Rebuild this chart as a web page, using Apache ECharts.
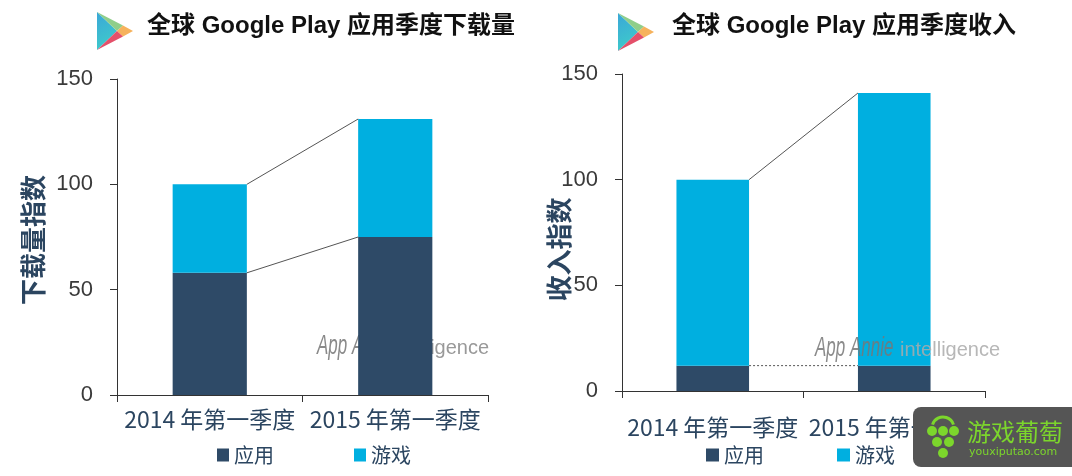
<!DOCTYPE html>
<html>
<head>
<meta charset="utf-8">
<script src="https://cdn.jsdelivr.net/npm/echarts@6/dist/echarts.min.js"></script>
<style>
html,body{margin:0;padding:0;background:#fff;}
#c{width:1072px;height:476px;}
</style>
</head>
<body>
<div id="c"></div>
<script>
const categories = ['2014 年第一季度', '2015 年第一季度'];
const seriesNames = ['应用', '游戏'];
const yTicks = [0, 50, 100, 150];
// 下载量指数
const dlApps = [58, 75];
const dlGames = [42, 56];
// 收入指数
const revApps = [12, 12];
const revGames = [88, 129];

const titles = ['全球 Google Play 应用季度下载量', '全球 Google Play 应用季度收入'];
const yNames = ['下载量指数', '收入指数'];

const C_APP = '#2e4a67';
const C_GAME = '#00afe0';
const C_TEXT = '#2b4560';

function totals(a, b) { return a.map((v, i) => v + b[i]); }
const dlTotal = totals(dlApps, dlGames);
const revTotal = totals(revApps, revGames);

function connector(xi, yi, data, dashes) {
  return {
    type: 'custom', xAxisIndex: xi, yAxisIndex: yi, z: 5, silent: true,
    encode: { x: [0, 2], y: [1, 3] },
    data: data,
    renderItem: function (params, api) {
      const p0 = api.coord([api.value(0), api.value(1)]);
      const p1 = api.coord([api.value(2), api.value(3)]);
      const hw = api.size([1, 0])[0] * 0.2;
      const dash = dashes[params.dataIndex];
      return {
        type: 'line',
        shape: { x1: p0[0] + hw, y1: p0[1], x2: p1[0] - hw, y2: p1[1] },
        style: { stroke: '#555', lineWidth: 1, lineDash: dash }
      };
    }
  };
}

function playIcon(x, y) {
  const P = (a, b) => [x + a, y + b];
  return {
    type: 'group', children: [
      { type: 'polygon', shape: { points: [P(0, 0), P(0, 38), P(20, 19)] },
        style: { fill: new echarts.graphic.LinearGradient(0, 0, 1, 1, [{ offset: 0, color: '#3aa7d8' }, { offset: 1, color: '#3fd0c8' }]) } },
      { type: 'polygon', shape: { points: [P(0, 0), P(26, 13.5), P(20, 19)] }, style: { fill: '#8fce8a' } },
      { type: 'polygon', shape: { points: [P(26, 13.5), P(36, 19), P(26, 24.5), P(20, 19)] }, style: { fill: '#f6b25c' } },
      { type: 'polygon', shape: { points: [P(0, 38), P(20, 19), P(26, 24.5)] }, style: { fill: '#e4506a' } }
    ]
  };
}

const axisLabelY = { color: '#3a3a3a', fontSize: 22, fontFamily: 'Liberation Sans', margin: 24 };
const axisLineDark = { show: true, lineStyle: { color: '#333', width: 1 } };

function yAxis(gi, name, gap, pad) {
  return {
    type: 'value', gridIndex: gi, min: 0, max: 150, interval: 50,
    axisLine: axisLineDark,
    axisTick: { show: true, length: 7, lineStyle: { color: '#333' } },
    splitLine: { show: false },
    axisLabel: Object.assign({}, axisLabelY, { formatter: v => yTicks.indexOf(v) >= 0 ? String(v) : '' }),
    name: name, nameLocation: 'middle', nameGap: gap, nameMoveOverlap: false,
    nameTextStyle: { fontSize: 26, fontWeight: 'bold', color: C_TEXT, fontFamily: 'Noto Sans CJK SC', padding: pad }
  };
}
function xAxis(gi, margin) {
  return {
    type: 'category', gridIndex: gi, data: categories,
    axisLine: axisLineDark,
    axisTick: { show: true, length: 7, lineStyle: { color: '#333' } },
    axisLabel: { color: C_TEXT, fontSize: 23, fontFamily: 'Noto Sans CJK SC', margin: margin, interval: 0 }
  };
}

const wmFont = 'italic 27px "Liberation Sans", sans-serif';
const wmFont2 = '20px "Liberation Sans", sans-serif';
const titleFont = 'bold 24px "Liberation Sans", "Noto Sans CJK SC", sans-serif';
const grape = '#7cd62c';

const chart = echarts.init(document.getElementById('c'));
chart.setOption({
  backgroundColor: '#fff',
  animation: false,
  grid: [
    { left: 117, right: 584, top: 79, bottom: 81 },
    { left: 622, right: 87, top: 74, bottom: 85 }
  ],
  xAxis: [xAxis(0, 13), xAxis(1, 25)],
  yAxis: [yAxis(0, yNames[0], 71, [0, 6, 0, 0]), yAxis(1, yNames[1], 50, [0, 34, 0, 0])],
  legend: [
    { left: 212, top: 440, data: seriesNames, icon: 'rect', itemWidth: 12, itemHeight: 13, itemGap: 80,
      textStyle: { color: C_TEXT, fontSize: 20, fontFamily: 'Noto Sans CJK SC' } },
    { left: 701, top: 440, data: seriesNames, icon: 'rect', itemWidth: 13, itemHeight: 13, itemGap: 73,
      textStyle: { color: C_TEXT, fontSize: 20, fontFamily: 'Noto Sans CJK SC' } }
  ],
  series: [
    { name: seriesNames[0], type: 'bar', stack: 'a', xAxisIndex: 0, yAxisIndex: 0, data: dlApps, barWidth: '40%', itemStyle: { color: C_APP } },
    { name: seriesNames[1], type: 'bar', stack: 'a', xAxisIndex: 0, yAxisIndex: 0, data: dlGames, barWidth: '40%', itemStyle: { color: C_GAME } },
    { name: seriesNames[0], type: 'bar', stack: 'b', xAxisIndex: 1, yAxisIndex: 1, data: revApps, barWidth: '40%', itemStyle: { color: C_APP } },
    { name: seriesNames[1], type: 'bar', stack: 'b', xAxisIndex: 1, yAxisIndex: 1, data: revGames, barWidth: '40%', itemStyle: { color: C_GAME } },
    connector(0, 0, [[0, dlApps[0], 1, dlApps[1]], [0, dlTotal[0], 1, dlTotal[1]]], [null, null]),
    connector(1, 1, [[0, revApps[0], 1, revApps[1]], [0, revTotal[0], 1, revTotal[1]]], [[2, 2], null])
  ],
  graphic: [
    playIcon(97, 12),
    playIcon(618, 13),
    { type: 'text', left: 147, top: 14, style: { text: titles[0], font: titleFont, fill: '#111' } },
    { type: 'text', left: 672, top: 14, style: { text: titles[1], font: titleFont, fill: '#111' } },
    // App Annie watermarks (left one sits behind the bars)
    { type: 'text', x: 317, y: 333, scaleX: 0.63, z: -1, style: { text: 'App Annie', font: wmFont, fill: '#8a8a8a' } },
    { type: 'text', x: 389, y: 338, z: -1, style: { text: 'intelligence', font: wmFont2, fill: '#999' } },
    // right one drawn over the bars
    { type: 'text', x: 815, y: 335, scaleX: 0.63, z: 100, zlevel: 1, style: { text: 'App Annie', font: wmFont, fill: '#777', opacity: 0.85 } },
    { type: 'text', x: 900, y: 340, z: 100, zlevel: 1, style: { text: 'intelligence', font: wmFont2, fill: '#aaa', opacity: 0.85 } },
    // youxiputao badge
    { type: 'rect', z: 100, zlevel: 1, shape: { x: 913, y: 407, width: 170, height: 60, r: 8 }, style: { fill: '#555' } },
    { type: 'arc', z: 101, zlevel: 1, shape: { cx: 943, cy: 428, r: 11, startAngle: Math.PI * 1.1, endAngle: Math.PI * 1.9 }, style: { stroke: grape, lineWidth: 3, fill: null } },
    { type: 'circle', z: 101, zlevel: 1, shape: { cx: 932, cy: 431, r: 5 }, style: { fill: grape } },
    { type: 'circle', z: 101, zlevel: 1, shape: { cx: 943, cy: 431, r: 5 }, style: { fill: grape } },
    { type: 'circle', z: 101, zlevel: 1, shape: { cx: 954, cy: 431, r: 5 }, style: { fill: grape } },
    { type: 'circle', z: 101, zlevel: 1, shape: { cx: 937, cy: 442, r: 5 }, style: { fill: grape } },
    { type: 'circle', z: 101, zlevel: 1, shape: { cx: 949, cy: 442, r: 5 }, style: { fill: grape } },
    { type: 'circle', z: 101, zlevel: 1, shape: { cx: 943, cy: 453, r: 5 }, style: { fill: grape } },
    { type: 'text', z: 101, zlevel: 1, x: 967, y: 420, style: { text: '游戏葡萄', font: '24px "Noto Sans CJK SC", sans-serif', fill: grape } },
    { type: 'text', z: 101, zlevel: 1, x: 969, y: 447, style: { text: 'youxiputao.com', font: '11px "DejaVu Sans", sans-serif', fill: grape } }
  ]
});
</script>
</body>
</html>
